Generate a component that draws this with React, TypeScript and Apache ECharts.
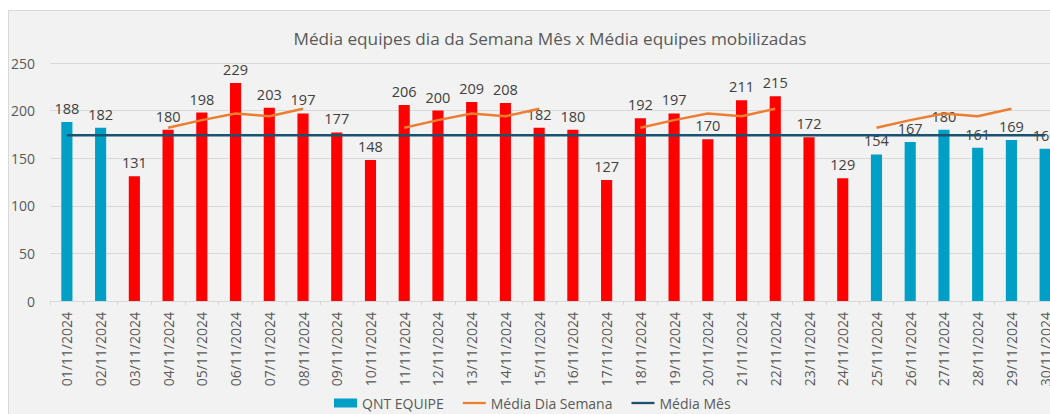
import React, { useEffect, useRef } from "react";
import * as echarts from "echarts";

const categories = [
  "01/11/2024", "02/11/2024", "03/11/2024", "04/11/2024", "05/11/2024", "06/11/2024",
  "07/11/2024", "08/11/2024", "09/11/2024", "10/11/2024", "11/11/2024", "12/11/2024",
  "13/11/2024", "14/11/2024", "15/11/2024", "16/11/2024", "17/11/2024", "18/11/2024",
  "19/11/2024", "20/11/2024", "21/11/2024", "22/11/2024", "23/11/2024", "24/11/2024",
  "25/11/2024", "26/11/2024", "27/11/2024", "28/11/2024", "29/11/2024", "30/11/2024",
];

const qntEquipe = [
  188, 182, 131, 180, 198, 229, 203, 197, 177, 148, 206, 200, 209, 208, 182,
  180, 127, 192, 197, 170, 211, 215, 172, 129, 154, 167, 180, 161, 169, 160,
];

const mediaDiaSemana = [
  null, null, null, 182, 190, 197, 194, 202, null, null, 182, 190, 197, 194, 202,
  null, null, 182, 190, 197, 194, 202, null, null, 182, 190, 197, 194, 202, null,
];

const mediaMes = [
  174, 174, 174, 174, 174, 174, 174, 174, 174, 174, 174, 174, 174, 174, 174,
  174, 174, 174, 174, 174, 174, 174, 174, 174, 174, 174, 174, 174, 174, 174,
];

const blueDays = ["01/11/2024", "02/11/2024", "25/11/2024", "26/11/2024", "27/11/2024", "28/11/2024", "29/11/2024", "30/11/2024"];

const yTicks = { min: 0, max: 250, interval: 50 };

const BLUE = "#00A0C6";
const RED = "#FF0000";
const ORANGE = "#ED7D31";
const NAVY = "#1B5270";
const FONT = "'Open Sans', 'Liberation Sans', Arial, sans-serif";
const LINE_ICON = "path://M0 0H26V2.6H0Z";

export default function App() {
  const ref = useRef<HTMLDivElement>(null);
  useEffect(() => {
    if (!ref.current) return;
    const chart = echarts.init(ref.current, undefined, { renderer: "svg" });
    chart.setOption({
      animation: false,
      backgroundColor: "#F2F2F2",
      textStyle: { fontFamily: FONT },
      title: {
        text: "Média equipes dia da Semana Mês x Média equipes mobilizadas",
        left: 537,
        textAlign: "center",
        top: 15,
        textStyle: { fontFamily: FONT, fontSize: 17.2, fontWeight: "normal", color: "#595959" },
      },
      legend: {
        left: 321,
        top: 381,
        itemGap: 19,
        itemWidth: 23,
        itemHeight: 9,
        textStyle: { fontFamily: FONT, fontSize: 14, color: "#595959" },
        data: [
          { name: "QNT EQUIPE", icon: "rect", itemStyle: { color: BLUE } },
          { name: "Média Dia Semana", icon: LINE_ICON, itemStyle: { color: ORANGE } },
          { name: "Média Mês", icon: LINE_ICON, itemStyle: { color: NAVY } },
        ],
      },
      grid: { left: 42, right: 16, top: 53, bottom: 113, containLabel: false },
      xAxis: {
        type: "category",
        data: categories,
        boundaryGap: true,
        axisLine: { lineStyle: { color: "#D9D9D9" } },
        axisTick: { show: true, interval: 0, length: 4, lineStyle: { color: "#D9D9D9" } },
        axisLabel: { interval: 0, rotate: 90, fontSize: 14, color: "#595959", margin: 11, fontFamily: FONT },
      },
      yAxis: {
        type: "value",
        min: yTicks.min,
        max: yTicks.max,
        interval: yTicks.interval,
        axisLine: { show: false },
        axisTick: { show: false },
        axisLabel: { fontSize: 14, color: "#595959", margin: 15, fontFamily: FONT },
        splitLine: { lineStyle: { color: "#D9D9D9" } },
      },
      series: [
        {
          name: "QNT EQUIPE",
          type: "bar",
          data: qntEquipe,
          barWidth: "33%",
          itemStyle: {
            color: (p: any) => (blueDays.includes(categories[p.dataIndex]) ? BLUE : RED),
          },
          label: { show: true, position: "top", distance: 6, fontSize: 14.5, color: "#404040", fontFamily: FONT },
          z: 2,
        },
        {
          name: "Média Dia Semana",
          type: "line",
          data: mediaDiaSemana,
          showSymbol: false,
          symbol: "none",
          connectNulls: false,
          lineStyle: { color: ORANGE, width: 2.5 },
          itemStyle: { color: ORANGE },
          z: 3,
        },
        {
          name: "Média Mês",
          type: "line",
          data: mediaMes,
          showSymbol: false,
          symbol: "none",
          lineStyle: { color: NAVY, width: 2.5 },
          itemStyle: { color: NAVY },
          z: 4,
        },
      ],
    });
    return () => chart.dispose();
  }, []);
  return (
    <div
      style={{
        position: "fixed",
        left: 8,
        top: 10,
        width: 1042,
        height: 404,
        overflow: "hidden",
        borderTop: "1px solid #D9D9D9",
        borderLeft: "1px solid #D9D9D9",
        boxSizing: "border-box",
        background: "#F2F2F2",
      }}
    >
      <div ref={ref} style={{ width: 1070, height: 404, marginTop: -1, marginLeft: -1 }} />
    </div>
  );
}
